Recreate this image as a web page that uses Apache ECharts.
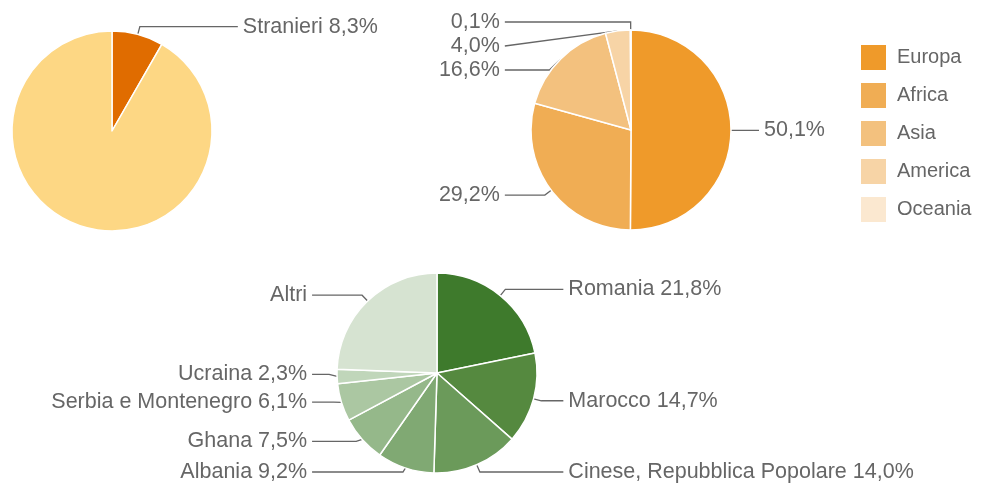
<!DOCTYPE html>
<html>
<head>
<meta charset="utf-8">
<script src="https://cdn.jsdelivr.net/npm/echarts@6/dist/echarts.min.js"></script>
<style>
  html, body { margin: 0; padding: 0; background: #fff; }
  #chart { width: 981px; height: 484px; }
</style>
</head>
<body>
<div id="chart"></div>
<script>
// popolazione: stranieri sul totale
const totNames = ['Stranieri', 'Italiani'];
const totValues = [8.3, 91.7];
const totColors = ['#E06C00', '#FDD784'];

// stranieri per continente
const contNames = ['Europa', 'Africa', 'Asia', 'America', 'Oceania'];
const contValues = [50.1, 29.2, 16.6, 4.0, 0.1];
const contColors = ['#EF9A2A', '#F0AD54', '#F3C17E', '#F7D4A6', '#FBE8D0'];

// stranieri per cittadinanza
const paeseNames = ['Romania', 'Marocco', 'Cinese, Repubblica Popolare', 'Albania', 'Ghana', 'Serbia e Montenegro', 'Ucraina', 'Altri'];
const paeseValues = [21.8, 14.7, 14.0, 9.2, 7.5, 6.1, 2.3, 24.4];
const paeseColors = ['#3E7A2C', '#55893F', '#6B9A5A', '#80A973', '#95B88A', '#ABC7A2', '#C0D6BA', '#D6E3D1'];

const pct = v => v.toFixed(1).replace('.', ',') + '%';

const textColor = '#666';
const fontFamily = '"Liberation Sans", Arial, sans-serif';

function pieBase(center) {
  return {
    type: 'pie',
    center: center,
    radius: 100,
    startAngle: 90,
    clockwise: true,
    animation: false,
    avoidLabelOverlap: true,
    itemStyle: { borderColor: '#fff', borderWidth: 1.5 },
    label: {
      color: textColor,
      fontSize: 21.5,
      fontFamily: fontFamily,
      alignTo: 'labelLine',
      distanceToLabelLine: 5
    },
    labelLine: {
      length: 8,
      length2: 18,
      lineStyle: { color: '#666', width: 1.3 }
    },
    emphasis: { disabled: true }
  };
}

// build data items; len2 gives the horizontal label-line length per side
function buildData(names, values, colors, len2) {
  return names.map((n, i) => {
    const d = { name: n, value: values[i], itemStyle: { color: colors[i] } };
    const l2 = len2(i);
    if (l2 === null) {
      d.label = { show: false };
      d.labelLine = { show: false };
    } else {
      d.labelLine = { length2: l2 };
    }
    return d;
  });
}

const chart = echarts.init(document.getElementById('chart'), null, { renderer: 'canvas' });

const s1 = pieBase([112, 131]);
s1.data = buildData(totNames, totValues, totColors, i => i === 0 ? 98 : null);
s1.label.formatter = p => p.name + ' ' + pct(p.value);

const s2 = pieBase([631, 130]);
s2.data = buildData(contNames, contValues, contColors, i => i === 0 ? 20 : 40);
s2.label.formatter = p => pct(p.value);

const s3 = pieBase([437, 373]);
s3.data = buildData(paeseNames, paeseValues, paeseColors, i => i < 3 ? 22 : 17);
s3.label.formatter = p => p.name === 'Altri' ? p.name : p.name + ' ' + pct(p.value);

chart.setOption({
  backgroundColor: '#fff',
  animation: false,
  legend: {
    data: contNames,
    orient: 'vertical',
    left: 854,
    top: 38,
    icon: 'rect',
    itemWidth: 27,
    itemHeight: 27,
    itemGap: 9,
    selectedMode: false,
    textStyle: { color: textColor, fontSize: 20, lineHeight: 23, fontFamily: fontFamily, padding: [0, 0, 0, 5] }
  },
  series: [s1, s2, s3]
});
</script>
</body>
</html>
